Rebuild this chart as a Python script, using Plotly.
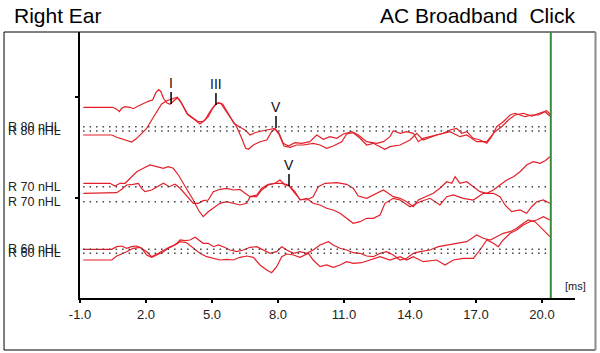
import plotly.graph_objects as go

# ---------------- data (time in ms, amplitude in arbitrary display units) ----------------
t_80a = [-0.85,0.47,0.67,0.79,0.90,1.05,1.27,1.42,1.65,1.88,2.10,2.30,2.45,2.58,2.68,2.79,2.94,3.09,3.24,3.40,3.51,3.70,3.92,4.23,4.45,4.68,4.91,5.14,5.29,5.49,5.74,6.00,6.24,6.50,6.73,6.95,7.26,7.56,7.86,8.05,8.24,8.47,8.77,9.08,9.45,9.76,10.06,10.36,10.67,10.97,11.35,11.65,12.03,12.49,12.79,13.09,13.24,13.55,13.85,14.15,14.38,14.60,15.06,15.51,15.82,16.12,16.35,16.58,16.88,17.18,17.49,17.71,17.94,18.24,18.55,18.77,19.00,19.23,19.53,19.83,20.14,20.36]
v_80a = [190.7,190.7,188.7,186.3,189.7,191.3,190.7,189.3,192,194.7,196.7,198,205.3,208.3,206.3,199.7,195.3,193.7,196.3,199.7,198.7,191.3,183,178,174,178,186.3,193,195.3,193.7,184.7,174.7,171.3,168,163,165.3,167,168,169.7,164.7,154.7,152,155.3,154.7,156.3,163,158.7,161.3,159.7,164,166.3,163,156.3,154.7,156.3,161.3,167.3,164.7,166.3,164.7,156.3,159.7,162,164.7,168,169.7,164.7,166.3,159.7,158,154.7,161.3,171.3,176.3,183,184.7,183,181.3,183,183,186.3,182]

t_80b = [-0.85,0.44,0.67,0.97,1.35,1.58,1.80,2.03,2.26,2.49,2.71,2.94,3.17,3.42,3.62,3.85,4.15,4.38,4.60,4.83,5.03,5.21,5.40,5.67,5.90,6.12,6.35,6.53,6.65,6.88,7.18,7.49,7.71,7.86,8.06,8.27,8.55,8.85,9.15,9.60,9.91,10.21,10.51,10.90,11.12,11.42,11.73,12.03,12.33,12.64,12.86,13.09,13.55,14.00,14.30,14.60,15.21,15.82,16.27,16.58,17.03,17.49,17.86,18.17,18.47,18.77,19.15,19.53,19.91,20.21,20.40]
v_80b = [163,163,160.7,158.7,156,159.7,164.7,169.7,178,186.3,194,197.3,198.7,200.7,194.7,184.7,179.7,176.3,176.3,181.3,189.7,194.7,194.7,186.3,178,171.3,159.7,149.7,148.7,153,156.3,158,166.3,169,163,152,150.7,153,153,154.7,153,149.7,152,156.3,164,165.3,159.7,153,154.7,151.3,148.7,151.3,153,158,164.7,158,163,166.3,161.3,163,156.3,156.3,166.3,171.3,178,183,184.7,182,184.7,187.3,183]

t_70a = [-0.85,0.36,0.59,0.82,1.05,1.27,1.58,1.88,2.18,2.49,2.79,3.01,3.24,3.47,3.70,3.92,4.15,4.38,4.60,4.83,5.06,5.36,5.67,5.97,6.27,6.58,6.73,7.03,7.26,7.56,7.86,8.09,8.32,8.51,8.77,9.00,9.30,9.60,9.91,10.21,10.51,10.82,11.12,11.42,11.73,12.03,12.33,12.64,12.86,13.24,13.55,14.00,14.45,14.91,15.36,15.67,15.97,16.42,16.88,17.33,17.79,18.09,18.32,18.62,19.00,19.30,19.53,19.76,20.06,20.36]
v_70a = [114.7,114.7,112,114.7,114.7,119.7,126.3,129.7,133,131.3,129.7,131.3,129.7,123,114.7,106.3,98,88,81.3,86.3,89.7,94.7,96.3,94.7,93,94.7,101.3,101.3,108,113,114.7,118,113,112,106.3,98,99.7,94.7,93,89.7,88,84.7,79.7,74.7,76.3,79.7,79.7,83,94.7,99.7,98,91.3,96.3,99.7,93,101.3,103,99.7,98,104.7,104.7,101.3,93,86.3,88,84.7,91.3,96.3,98,94.7]

t_70b = [-0.85,0.44,0.67,0.90,1.12,1.42,1.65,1.80,1.95,2.26,2.56,2.79,3.06,3.32,3.55,3.85,4.15,4.38,4.60,4.83,5.06,5.36,5.67,5.97,6.27,6.50,6.73,7.03,7.26,7.56,7.86,8.17,8.47,8.77,9.00,9.30,9.60,9.83,10.14,10.67,11.12,11.42,11.65,12.03,12.49,12.79,13.24,13.55,13.85,14.15,14.38,14.68,15.06,15.36,15.67,15.90,16.05,16.27,16.58,16.88,17.18,17.49,17.79,18.09,18.40,18.70,19.00,19.30,19.60,19.91,20.14,20.36]
v_70b = [104.7,104.7,105.3,108.7,113,113.7,114.7,109.7,106.3,108,112,114.7,111.3,113.7,109.7,102,94.7,94.7,97.3,98,106.3,108.7,109.7,108,108.7,104.7,101.3,103,109.7,113.7,114.7,114.7,113,104.7,98.7,98,101.3,111.3,114.7,115.3,113.7,109.7,102,99.7,104.7,108,101.3,99.7,96.3,91.3,98,101.3,104.7,109.7,116.3,114.7,121.3,114.7,116.3,111.3,106.3,104.7,108,113,118,121.3,126.3,133,136.3,134.7,137.3,141.3]

t_60a = [-0.85,0.44,0.67,0.90,1.12,1.35,1.58,1.80,2.03,2.26,2.49,2.79,3.01,3.17,3.40,3.55,3.77,4.00,4.23,4.38,4.60,4.83,5.06,5.29,5.51,5.82,6.12,6.42,6.73,7.03,7.33,7.64,7.94,8.17,8.40,8.70,9.00,9.30,9.60,9.91,10.29,10.51,10.82,11.12,11.42,11.73,12.03,12.33,12.64,12.94,13.24,13.55,13.85,14.15,14.45,14.91,15.29,15.67,16.12,16.58,17.03,17.33,17.64,17.94,18.24,18.55,18.85,19.15,19.38,19.68,19.99,20.21,20.36]
v_60a = [48.7,48.7,51.3,52,49.7,51.3,52,49.7,43,40.7,43,46.3,49.7,51.3,54.7,58,57.3,58,60.7,58,54.7,54.7,51.3,53,51.3,48,46.3,48,50.7,51.3,48,44.7,46.3,51.3,48,44.7,46.3,44.7,48,53,56.3,53,49.7,48,45.3,44.7,42,41.3,44.7,46.3,43,38,39.7,44.7,46.3,48,51.3,53,54.7,56.3,63,59.7,58,61.3,64.7,66.3,69.7,74.7,78,76.3,69.7,64.7,61.3]

t_60b = [-0.85,0.44,0.67,0.90,1.12,1.42,1.73,2.03,2.26,2.56,2.86,3.09,3.32,3.55,3.85,4.15,4.45,4.76,5.06,5.36,5.67,5.97,6.27,6.58,6.88,7.18,7.49,7.71,7.94,8.17,8.40,8.70,9.00,9.38,9.60,9.91,10.21,10.51,10.82,11.12,11.42,11.80,12.18,12.64,13.09,13.55,13.85,14.15,14.60,15.21,15.59,15.97,16.42,16.88,17.18,17.49,17.79,18.01,18.24,18.55,18.85,19.15,19.45,19.76,20.06,20.36]
v_60b = [38,38,42,44,46.3,49.7,50.7,46.3,41.3,44.7,48.7,51.3,53,56.3,55.3,49.7,44.7,41.3,39.7,38,38.7,38,40.7,42,40.7,33,28,25.3,31.3,41.3,44,43,40.7,44.7,38,31.3,33,30.7,33,36.3,34.7,35.3,38,41.3,38,41.3,38,41.3,36.3,38,33,38,39.7,39.7,48,58,54.7,51.3,58,64.7,68,73,76.3,78,81.3,78]

baseline_vals = [171.3, 167.0, 111.3, 96.3, 48.7, 44.7]
level_labels = ["R 80 nHL", "R 80 nHL", "R 70 nHL", "R 70 nHL", "R 60 nHL", "R 60 nHL"]
baseline_start, baseline_end = -0.86, 20.4

marker_labels = ["I", "III", "V", "V"]
marker_times = [3.14, 5.18, 7.91, 8.50]
marker_amps = [194.0, 193.0, 170.0, 112.0]

stim_end = 20.4
x_ticks = [-1, 2, 5, 8, 11, 14, 17, 20]
x_tick_text = ["-1.0", "2.0", "5.0", "8.0", "11.0", "14.0", "17.0", "20.0"]
y_ticks = [100, 201]

# ---------------- figure ----------------
RED = "#e3202a"
fig = go.Figure()

for t, v in [(t_80a, v_80a), (t_80b, v_80b), (t_70a, v_70a), (t_70b, v_70b), (t_60a, v_60a), (t_60b, v_60b)]:
    fig.add_trace(go.Scatter(x=t, y=v, mode="lines", line=dict(color=RED, width=1.2),
                             hoverinfo="skip", showlegend=False))

for b in baseline_vals:
    fig.add_trace(go.Scatter(x=[baseline_start, baseline_end], y=[b, b], mode="lines",
                             line=dict(color="#444444", width=1.5, dash="1.5px,5px"),
                             hoverinfo="skip", showlegend=False))

# stimulus end marker (green)
fig.add_shape(type="line", xref="x", yref="paper", x0=stim_end, x1=stim_end, y0=0, y1=1,
              line=dict(color="#3a8a3a", width=2))

# wave markers
for lab, tm, amp in zip(marker_labels, marker_times, marker_amps):
    fig.add_shape(type="line", xref="x", yref="y", x0=tm, x1=tm, y0=amp, y1=amp + 12,
                  line=dict(color="black", width=1.5))
    fig.add_annotation(x=tm, y=amp + 12, xref="x", yref="y", text=lab, showarrow=False,
                       yanchor="bottom", yshift=-1,
                       font=dict(family="Liberation Sans, Arial", size=14, color="#111111"))

# left labels
for lab, b in zip(level_labels, baseline_vals):
    fig.add_annotation(x=-0.1495, y=b, xref="paper", yref="y", text=lab, showarrow=False,
                       xanchor="left", yanchor="middle",
                       font=dict(family="Liberation Sans, Arial", size=12.5, color="#222222"))

# outer frame
fig.add_shape(type="rect", xref="paper", yref="paper", x0=-0.1535, x1=1.0414, y0=-0.1955, y1=1.0,
              line=dict(color="black", width=1), layer="below")
fig.add_shape(type="line", xref="paper", yref="paper", x0=1.0414, x1=1.0414, y0=-0.1955, y1=1.0,
              line=dict(color="#8a8a8a", width=2))

# titles
fig.add_annotation(x=-0.1374, y=1.062, xref="paper", yref="paper", text="Right Ear", showarrow=False,
                   xanchor="left", yanchor="middle",
                   font=dict(family="Liberation Sans, Arial", size=21, color="black"))
fig.add_annotation(x=1.004, y=1.062, xref="paper", yref="paper", text="AC Broadband\u00a0\u00a0Click",
                   showarrow=False, xanchor="right", yanchor="middle",
                   font=dict(family="Liberation Sans, Arial", size=21, color="black"))
fig.add_annotation(x=1.0, y=12, xref="paper", yref="y", text="[ms]", showarrow=False,
                   xanchor="center", yanchor="middle",
                   font=dict(family="Liberation Sans, Arial", size=11, color="#222222"))

fig.update_layout(
    width=600, height=353,
    margin=dict(l=80, r=25, t=32, b=55, pad=0),
    paper_bgcolor="white", plot_bgcolor="white",
    xaxis=dict(range=[-1, 21.5], tickvals=x_ticks, ticktext=x_tick_text, showgrid=False, zeroline=False,
               showline=True, linecolor="black", linewidth=1.5, ticks="outside", ticklen=3,
               tickcolor="black", tickwidth=1.5, ticklabelstandoff=1,
               tickfont=dict(family="Liberation Sans, Arial", size=13, color="#222222")),
    yaxis=dict(range=[0, 266], tickvals=y_ticks, showticklabels=False, showgrid=False, zeroline=False,
               showline=True, linecolor="black", linewidth=1.5, ticks="outside", ticklen=3,
               tickcolor="black", tickwidth=1.5),
)

fig.write_html("out.html")
